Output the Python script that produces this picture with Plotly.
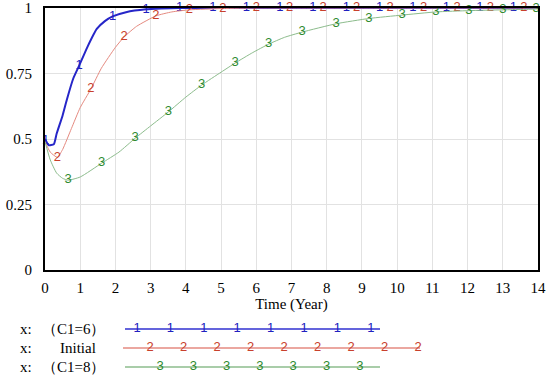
import plotly.graph_objects as go

# ---- data ----
t_c16 = [0, 0.02, 0.1, 0.25, 0.33, 0.5, 0.62, 0.8, 0.97, 1.2, 1.47, 1.7, 1.92, 2.3, 2.87,
         3.3, 3.82, 4.77, 5.72, 6.67, 7.61, 8.56, 9.5, 10.45, 11.4, 12.35, 13.3, 14]
v_c16 = [0.5, 0.495, 0.477, 0.48, 0.52, 0.59, 0.65, 0.73, 0.78, 0.85, 0.92, 0.95, 0.968, 0.984, 0.995,
         0.998, 1.0, 1.0, 1.0, 1.0, 1.0, 1.0, 1.0, 1.0, 1.0, 1.0, 1.0, 1.0]
m_c16 = [0.02, 0.97, 1.92, 2.87, 3.82, 4.77, 5.72, 6.67, 7.61, 8.56, 9.5, 10.45, 11.4, 12.35, 13.3]

t_init = [0, 0.15, 0.35, 0.5, 0.75, 1.0, 1.3, 1.6, 2.0, 2.25, 2.6, 3.15, 3.6, 4.1, 5.05,
          6.0, 6.95, 7.9, 8.85, 9.8, 10.75, 11.7, 12.65, 13.6, 14]
v_init = [0.49, 0.45, 0.43, 0.46, 0.54, 0.62, 0.69, 0.77, 0.85, 0.89, 0.93, 0.97, 0.985, 0.993, 0.998,
          1.0, 1.0, 1.0, 1.0, 1.0, 1.0, 1.0, 1.0, 1.0, 1.0]
m_init = [0.35, 1.3, 2.25, 3.15, 4.1, 5.05, 6.0, 6.95, 7.9, 8.85, 9.8, 10.75, 11.7, 12.65, 13.6]

t_c18 = [0, 0.15, 0.33, 0.5, 0.66, 1.0, 1.61, 2.1, 2.56, 3.0, 3.5, 4.0, 4.45, 5.0, 5.4, 5.9,
         6.35, 6.8, 7.3, 8.27, 9.2, 10.14, 11.1, 12.04, 13.0, 13.95, 14]
v_c18 = [0.49, 0.42, 0.37, 0.35, 0.343, 0.355, 0.408, 0.45, 0.503, 0.55, 0.603, 0.66, 0.706, 0.755, 0.79, 0.83,
         0.862, 0.888, 0.908, 0.94, 0.96, 0.973, 0.985, 0.99, 0.993, 0.996, 0.997]
m_c18 = [0.66, 1.61, 2.56, 3.5, 4.45, 5.4, 6.35, 7.3, 8.27, 9.2, 10.14, 11.1, 12.04, 13.0, 13.95]

series_names = ["（C1=6）", "Initial", "（C1=8）"]
series_tags = ["1", "2", "3"]
x_ticks = list(range(0, 15))
y_ticks = [0, 0.25, 0.5, 0.75, 1]
y_tick_text = ["0", "0.25", "0.5", "0.75", "1"]

# ---- styles ----
line_colors = ["#2626c8", "#e58a80", "#8cbc8c"]
text_colors = ["#2020c0", "#c8402c", "#2e8a2e"]
line_widths = [2, 1, 1]
SERIF = "Liberation Serif"
SANS = "Liberation Sans"

fig = go.Figure()

all_series = [(t_c16, v_c16, m_c16), (t_init, v_init, m_init), (t_c18, v_c18, m_c18)]
for i, (t, v, marks) in enumerate(all_series):
    labels = [series_tags[i] if tt in marks else "" for tt in t]
    fig.add_trace(go.Scatter(
        x=t, y=v, mode="lines+text", text=labels, textposition="middle center",
        textfont=dict(family=SANS, size=13, color=text_colors[i]),
        line=dict(color=line_colors[i], width=line_widths[i], shape="spline", smoothing=0.5),
        cliponaxis=False, showlegend=False, hoverinfo="skip", xaxis="x", yaxis="y"))

# ---- custom legend drawn in a second (hidden) subplot; x units = pixels ----
leg_rows = [3, 2, 1]
leg_line_span = [(125, 380), (123, 420), (125, 380)]
leg_first = [137, 150, 160]
leg_step = [33.4, 33.5, 33.3]
leg_count = [8, 9, 7]
for i in range(3):
    x0, x1 = leg_line_span[i]
    fig.add_trace(go.Scatter(
        x=[x0, x1], y=[leg_rows[i], leg_rows[i]], mode="lines",
        line=dict(color=line_colors[i] if i else "#3030d0", width=1.3),
        showlegend=False, hoverinfo="skip", xaxis="x2", yaxis="y2"))
    mx = [leg_first[i] + leg_step[i] * k for k in range(leg_count[i])]
    fig.add_trace(go.Scatter(
        x=mx, y=[leg_rows[i]] * len(mx), mode="text", text=[series_tags[i]] * len(mx),
        textposition="middle center",
        textfont=dict(family=SANS, size=13, color=text_colors[i]),
        cliponaxis=False, showlegend=False, hoverinfo="skip", xaxis="x2", yaxis="y2"))

PLOT_L, PLOT_R = 45, 538
def px2paper(px):
    return (px - PLOT_L) / (PLOT_R - PLOT_L)

label_centers = [73, 78, 73]
for i in range(3):
    fig.add_annotation(x=px2paper(26), y=leg_rows[i], xref="paper", yref="y2",
                       text="x:", showarrow=False, xanchor="center", yanchor="middle",
                       font=dict(family=SERIF, size=15, color="black"))
    fig.add_annotation(x=px2paper(label_centers[i]), y=leg_rows[i], xref="paper", yref="y2",
                       text=series_names[i], showarrow=False, xanchor="center", yanchor="middle",
                       font=dict(family=SERIF, size=15, color="black"))

fig.update_layout(
    width=550, height=379,
    margin=dict(l=45, r=12, t=8, b=4),
    paper_bgcolor="white", plot_bgcolor="white",
    xaxis=dict(domain=[0, 1], range=[0, 14], tickvals=x_ticks, anchor="y", automargin=False,
               showgrid=True, gridcolor="#e2e2e2", gridwidth=1, zeroline=False,
               showline=True, linecolor="black", linewidth=2, mirror=True,
               ticks="", ticklabelstandoff=3,
               tickfont=dict(family=SERIF, size=15, color="black"),
               title=dict(text="Time (Year)", font=dict(family=SERIF, size=15, color="black"),
                          standoff=2)),
    yaxis=dict(domain=[0.286, 1], range=[0, 1], tickvals=y_ticks, ticktext=y_tick_text, anchor="x",
               automargin=False,
               showgrid=True, gridcolor="#e2e2e2", gridwidth=1, zeroline=False,
               showline=True, linecolor="black", linewidth=2, mirror=True,
               ticks="", ticklabelstandoff=8,
               tickfont=dict(family=SERIF, size=15, color="black")),
    xaxis2=dict(domain=[0, 1], range=[PLOT_L, PLOT_R], anchor="y2", visible=False),
    yaxis2=dict(domain=[0, 0.2], range=[0.579, 4.442], anchor="x2", visible=False),
)

fig.write_html("out.html", config={"displayModeBar": False},
               post_script="document.body.style.margin='0';")
